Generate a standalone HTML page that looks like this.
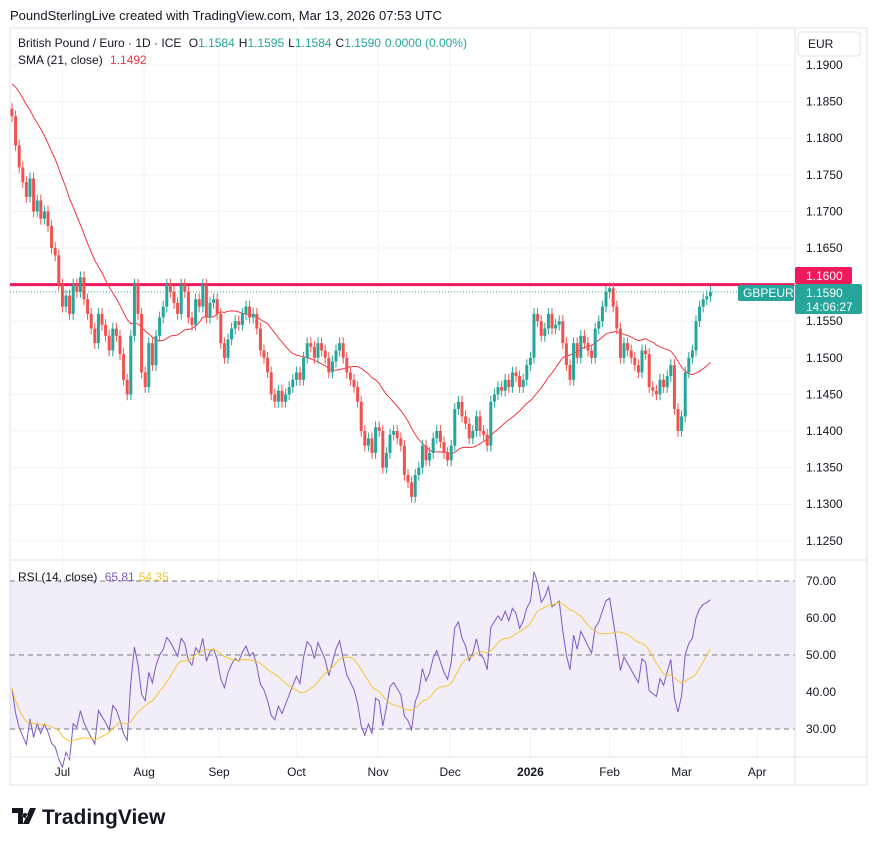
<!DOCTYPE html>
<html><head><meta charset="utf-8">
<style>
body{margin:0;background:#fff;font-family:"Liberation Sans",sans-serif;}
svg text{font-family:"Liberation Sans",sans-serif;}
</style></head>
<body>
<svg id="c" width="877" height="846" viewBox="0 0 877 846">
<text x="10" y="20" font-size="13" fill="#131722">PoundSterlingLive created with TradingView.com, Mar 13, 2026 07:53 UTC</text>
<rect x="10" y="28" width="857" height="757" fill="none" stroke="#e0e3eb"/>
<rect x="10" y="581" width="785" height="148" fill="#7e57c2" fill-opacity="0.1"/>
<g id="grid"></g>
<g id="sma"></g>
<g id="candles"></g>
<g id="rsi"></g>
<line x1="795" y1="28" x2="795" y2="785" stroke="#e0e3eb"/>
<line x1="10" y1="560" x2="867" y2="560" stroke="#e0e3eb"/>
<line x1="10" y1="757" x2="867" y2="757" stroke="#e0e3eb"/>
<g id="axes"></g>
<text x="18" y="47" font-size="12" fill="#131722">British Pound / Euro · 1D · ICE <tspan dx="4">O</tspan><tspan fill="#26a69a">1.1584</tspan><tspan dx="4">H</tspan><tspan fill="#26a69a">1.1595</tspan><tspan dx="4">L</tspan><tspan fill="#26a69a">1.1584</tspan><tspan dx="4">C</tspan><tspan fill="#26a69a">1.1590</tspan><tspan dx="4" fill="#26a69a">0.0000 (0.00%)</tspan></text>
<text x="18" y="64" font-size="12" fill="#131722">SMA (21, close) <tspan dx="4" fill="#f23645">1.1492</tspan></text>
<text x="18" y="581" font-size="12" fill="#131722">RSI (14, close) <tspan dx="4" fill="#7e57c2">65.81</tspan><tspan dx="4" fill="#f7c531">54.35</tspan></text>
<rect x="798" y="32" width="62" height="24" rx="3" fill="#fff" stroke="#e0e3eb"/>
<text x="808" y="48" font-size="12" fill="#131722">EUR</text>
<rect x="795" y="267" width="57" height="17" rx="2" fill="#f0195c"/>
<text x="806" y="280" font-size="12" fill="#fff">1.1600</text>
<rect x="738" y="285" width="56" height="16" rx="2" fill="#26a69a"/>
<text x="743" y="297" font-size="12" fill="#fff">GBPEUR</text>
<rect x="795" y="284" width="67" height="30" rx="2" fill="#26a69a"/>
<text x="806" y="297" font-size="12" fill="#fff">1.1590</text>
<text x="806" y="311" font-size="12" fill="#fff">14:06:27</text>
<g>
<path d="M12 808h11v16h-5v-11h-6z M25 813a2.5 2.5 0 1 0 0.1 0z M30 808h6l-7 16h-6z" fill="#131722"/>
<text x="42" y="824" font-size="21" font-weight="bold" fill="#131722">TradingView</text>
</g>
</svg>
<script>
const NS="http://www.w3.org/2000/svg";
const priorCloses=[1.1880,1.1900,1.1920,1.1910,1.1890,1.1905,1.1880,1.1870,1.1890,1.1900,1.1880,1.1860,1.1870,1.1850,1.1860,1.1870,1.1840,1.1850,1.1860,1.1840];
const closes=[1.1830,1.1790,1.1760,1.1740,1.1720,1.1745,1.1700,1.1715,1.1690,1.1700,
1.1680,1.1650,1.1640,1.1600,1.1570,1.1585,1.1560,1.1600,1.1590,1.1610,
1.1580,1.1560,1.1540,1.1520,1.1560,1.1545,1.1530,1.1510,1.1540,1.1530,
1.1505,1.1470,1.1450,1.1530,1.1600,1.1560,1.1480,1.1460,1.1520,1.1490,
1.1530,1.1555,1.1570,1.1600,1.1590,1.1575,1.1560,1.1600,1.1590,1.1555,
1.1545,1.1580,1.1570,1.1600,1.1555,1.1575,1.1580,1.1560,1.1520,1.1500,
1.1525,1.1540,1.1550,1.1545,1.1560,1.1570,1.1555,1.1560,1.1540,1.1510,
1.1500,1.1480,1.1450,1.1440,1.1455,1.1440,1.1450,1.1460,1.1470,1.1480,
1.1470,1.1500,1.1520,1.1515,1.1500,1.1520,1.1510,1.1500,1.1480,1.1495,
1.1510,1.1520,1.1500,1.1480,1.1470,1.1460,1.1440,1.1400,1.1380,1.1390,
1.1370,1.1405,1.1400,1.1350,1.1370,1.1395,1.1400,1.1390,1.1380,1.1340,
1.1330,1.1310,1.1340,1.1350,1.1380,1.1360,1.1370,1.1390,1.1400,1.1385,
1.1370,1.1360,1.1380,1.1430,1.1440,1.1420,1.1410,1.1390,1.1400,1.1420,
1.1400,1.1395,1.1380,1.1440,1.1450,1.1460,1.1455,1.1470,1.1460,1.1480,
1.1475,1.1460,1.1470,1.1490,1.1500,1.1560,1.1550,1.1530,1.1540,1.1560,
1.1540,1.1545,1.1550,1.1520,1.1490,1.1470,1.1520,1.1500,1.1530,1.1520,
1.1510,1.1500,1.1540,1.1550,1.1570,1.1590,1.1595,1.1570,1.1540,1.1500,
1.1520,1.1510,1.1500,1.1490,1.1480,1.1510,1.1505,1.1460,1.1455,1.1450,
1.1470,1.1460,1.1475,1.1490,1.1430,1.1400,1.1420,1.1480,1.1500,1.1510,
1.1550,1.1570,1.1580,1.1584,1.1590];
const priceTicks=["1.1900","1.1850","1.1800","1.1750","1.1700","1.1650","1.1550","1.1500","1.1450","1.1400","1.1350","1.1300","1.1250"];
const rsiTicks=["70.00","60.00","50.00","40.00","30.00"];
const monthLabels=["Jul","Aug","Sep","Oct","Nov","Dec","2026","Feb","Mar","Apr"];
const monthBars=[14,36.7,57.5,79,101.7,121.7,144,166,186,207];
const levelPrice=1.1600;

const yP=p=>65+(1.19-p)/0.005*36.6;
const yR=r=>581+(70-r)/10*37;
const xB=i=>12+i*3.6;
function mk(t,a,parent,name){const e=document.createElementNS(NS,t);for(const k in a)e.setAttribute(k,a[k]);


document.getElementById(parent).appendChild(e);return e;}

priceTicks.forEach(t=>{const y=yP(parseFloat(t));
mk('line',{x1:10,x2:795,y1:y,y2:y,stroke:'#f0f3fa'},'grid','price-gridline');
const tx=mk('text',{x:806,y:y+4,'font-size':12,fill:'#131722'},'axes','price-tick-label');tx.textContent=t;});
rsiTicks.forEach(t=>{const y=yR(parseFloat(t));
if(t!=="60.00"&&t!=="40.00")mk('line',{x1:10,x2:795,y1:y,y2:y,stroke:'#787b86','stroke-dasharray':'5,4'},'grid','rsi-level-line');
else mk('line',{x1:10,x2:795,y1:y,y2:y,stroke:'#f0f3fa'},'grid','rsi-gridline');
const tx=mk('text',{x:806,y:y+4,'font-size':12,fill:'#131722'},'axes','rsi-tick-label');tx.textContent=t;});
monthLabels.forEach((m,k)=>{const x=xB(monthBars[k]);
mk('line',{x1:x,x2:x,y1:28,y2:757,stroke:'#f0f3fa'},'grid','time-gridline');
const tx=mk('text',{x:x,y:776,'font-size':12,fill:'#131722','text-anchor':'middle','font-weight':m==="2026"?'bold':'normal'},'axes','time-tick-label');tx.textContent=m;});

mk('line',{x1:10,x2:795,y1:yP(levelPrice),y2:yP(levelPrice),stroke:'#f0195c','stroke-width':3},'sma','resistance-line');
const last=closes[closes.length-1];
mk('line',{x1:10,x2:795,y1:yP(last),y2:yP(last),stroke:'#26a69a','stroke-dasharray':'1,2'},'sma','last-price-line');

closes.forEach((c,i)=>{const o=i?closes[i-1]:priorCloses[priorCloses.length-1];
const up=c>=o,col=up?'#26a69a':'#ef5350';const x=xB(i);
const hi=Math.max(o,c)+0.0008,lo=Math.min(o,c)-0.0008;
mk('line',{x1:x,x2:x,y1:yP(hi),y2:yP(lo),stroke:col,'stroke-width':1},'candles','candle-wick');
const y1=yP(Math.max(o,c)),y2=yP(Math.min(o,c));
mk('rect',{x:x-1.5,y:y1,width:3,height:Math.max(1,y2-y1),fill:col},'candles','candle-body');});

const all=priorCloses.concat(closes);let pts=[];
closes.forEach((c,i)=>{const j=i+priorCloses.length;let s=0,n=0;for(let k=Math.max(0,j-20);k<=j;k++){s+=all[k];n++;}pts.push(xB(i)+','+yP(s/n));});
mk('polyline',{points:pts.join(' '),fill:'none',stroke:'#f23645','stroke-width':1},'sma','sma-line');

let ag=0,al=0;const rsi=[];
for(let k=1;k<all.length;k++){const d=all[k]-all[k-1];const g=Math.max(d,0),l=Math.max(-d,0);
if(k<=14){ag+=g/14;al+=l/14;}else{ag=(ag*13+g)/14;al=(al*13+l)/14;}
if(k>=priorCloses.length){rsi.push(al===0?100:100-100/(1+ag/al));}}
const rp=rsi.map((r,i)=>xB(i)+','+yR(r));
mk('polyline',{points:rp.join(' '),fill:'none',stroke:'#7e57c2','stroke-width':1},'rsi','rsi-line');
const ma=[];rsi.forEach((r,i)=>{let s=0,n=0;for(let k=Math.max(0,i-13);k<=i;k++){s+=rsi[k];n++;}ma.push(xB(i)+','+yR(s/n));});
mk('polyline',{points:ma.join(' '),fill:'none',stroke:'#f7c531','stroke-width':1},'rsi','rsi-ma-line');
</script>
</body></html>
